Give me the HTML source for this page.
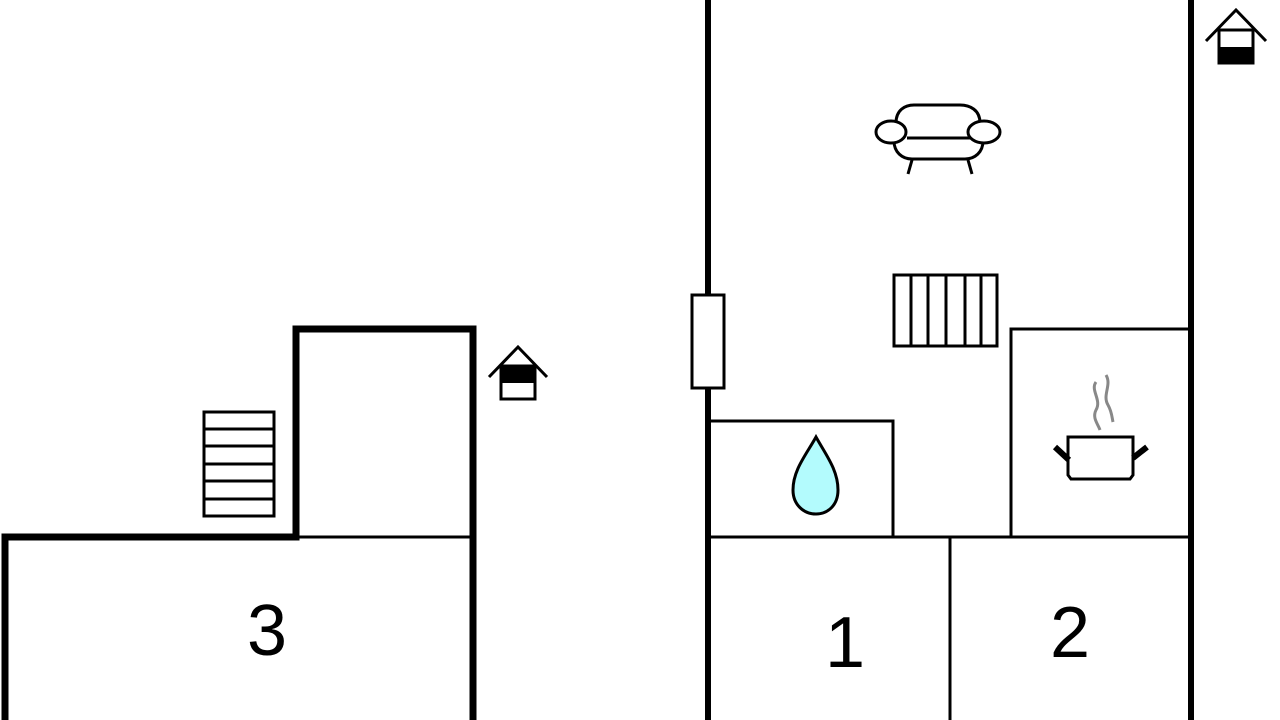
<!DOCTYPE html>
<html><head><meta charset="utf-8"><style>
html,body{margin:0;padding:0;background:#fff;width:1280px;height:720px;overflow:hidden}
</style></head><body>
<svg width="1280" height="720" viewBox="0 0 1280 720" xmlns="http://www.w3.org/2000/svg">
<g fill="none" stroke="#000" stroke-linejoin="miter">
<!-- left building -->
<polyline points="5,720 5,537 296,537 296,329 473,329 473,720" stroke-width="7"/>
<line x1="296" y1="537" x2="473" y2="537" stroke-width="3"/>
<!-- stairs -->
<rect x="204" y="412" width="70" height="104" stroke-width="3"/>
<line x1="204" y1="429" x2="274" y2="429" stroke-width="3"/>
<line x1="204" y1="446" x2="274" y2="446" stroke-width="3"/>
<line x1="204" y1="464" x2="274" y2="464" stroke-width="3"/>
<line x1="204" y1="481" x2="274" y2="481" stroke-width="3"/>
<line x1="204" y1="499" x2="274" y2="499" stroke-width="3"/>
<!-- left house icon -->
<polyline points="489,377 518,347 547,377" stroke-width="3"/>
<rect x="501" y="366" width="34" height="33" stroke-width="3"/>
<rect x="501" y="366" width="34" height="17" fill="#000" stroke="none"/>
<!-- right building -->
<line x1="708" y1="0" x2="708" y2="720" stroke-width="6"/>
<line x1="1191" y1="0" x2="1191" y2="720" stroke-width="6"/>
<line x1="708" y1="537" x2="1191" y2="537" stroke-width="3"/>
<line x1="950" y1="537" x2="950" y2="720" stroke-width="3"/>
<polyline points="708,421 893,421 893,537" stroke-width="3"/>
<polyline points="1011,537 1011,329 1191,329" stroke-width="3"/>
<rect x="692" y="295" width="32" height="93" fill="#fff" stroke-width="3"/>
<!-- radiator -->
<rect x="894" y="275" width="103" height="71" stroke-width="3"/>
<line x1="911" y1="275" x2="911" y2="346" stroke-width="3"/>
<line x1="928" y1="275" x2="928" y2="346" stroke-width="3"/>
<line x1="946" y1="275" x2="946" y2="346" stroke-width="3"/>
<line x1="965" y1="275" x2="965" y2="346" stroke-width="3"/>
<line x1="981" y1="275" x2="981" y2="346" stroke-width="3"/>
<!-- drop -->
<path d="M816,437 C806,455 793,470 793,490 C793,505 804,514 816,514 C828,514 838,505 838,490 C838,470 826,455 816,437 Z" fill="#b3fbfd" stroke-width="3"/>
<!-- pot -->
<path d="M1068,437 H1133 V475 L1130,479 H1071 L1068,475 Z" stroke-width="3"/>
<line x1="1055" y1="447" x2="1069" y2="460" stroke-width="6"/>
<line x1="1147" y1="447" x2="1133" y2="458" stroke-width="6"/>
<path d="M1096,382 C1090,390 1102,400 1096,410 C1092,418 1098,424 1100,430" stroke="#888" stroke-width="3"/>
<path d="M1106,375 C1112,385 1102,395 1108,405 C1112,412 1112,418 1113,422" stroke="#888" stroke-width="3"/>
<!-- sofa -->
<path d="M896,123 C896,110 905,105 914,105 H960 C970,105 980,110 980,123" stroke-width="3"/>
<path d="M894,141 C894,152 902,159 912,159 H965 C975,159 983,152 983,141" stroke-width="3"/>
<line x1="907" y1="138" x2="970" y2="138" stroke-width="3"/>
<ellipse cx="891" cy="132" rx="15" ry="11" fill="#fff" stroke-width="3"/>
<ellipse cx="984" cy="132" rx="16" ry="11" fill="#fff" stroke-width="3"/>
<line x1="912" y1="160" x2="908" y2="174" stroke-width="3"/>
<line x1="968" y1="160" x2="972" y2="174" stroke-width="3"/>
<!-- right house icon -->
<polyline points="1206,41 1236,10 1266,41" stroke-width="3"/>
<rect x="1219" y="30" width="34" height="33" stroke-width="3"/>
<rect x="1219" y="47" width="34" height="16" fill="#000" stroke="none"/>
</g>
<g font-family="Liberation Sans, sans-serif" font-size="72" fill="#000" text-anchor="middle">
<text x="267" y="655">3</text>
<text x="845" y="667">1</text>
<text x="1070" y="657">2</text>
</g>
</svg>
</body></html>
